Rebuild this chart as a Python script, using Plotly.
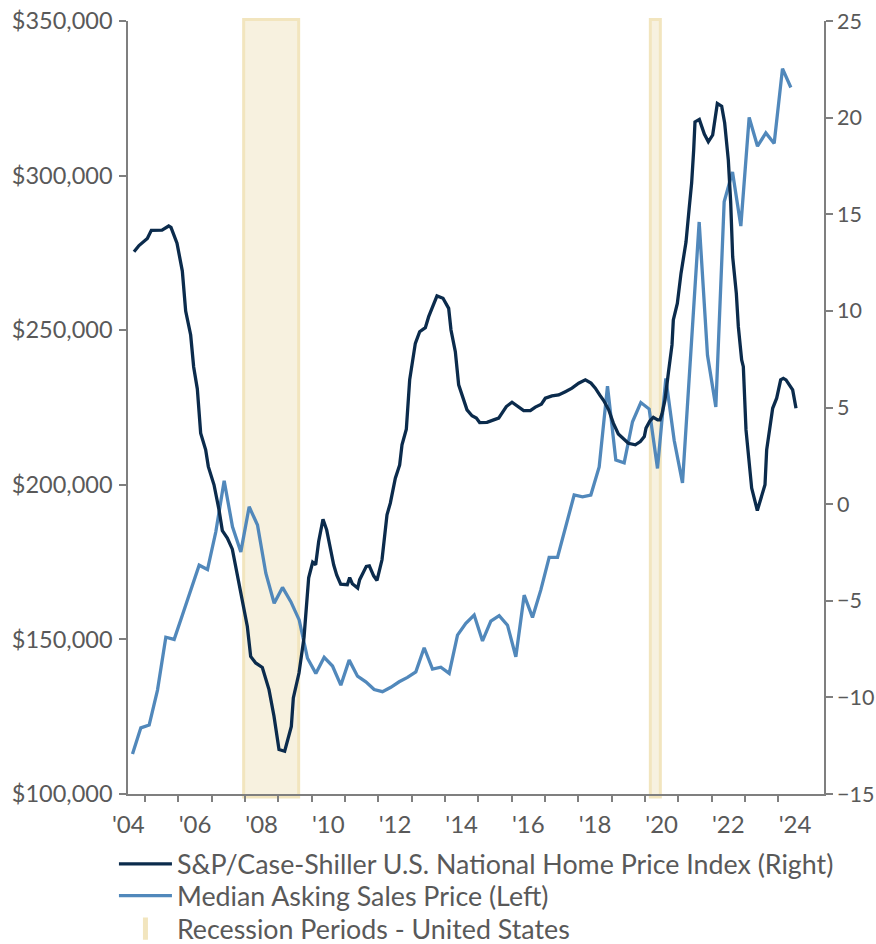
import plotly.graph_objects as go

# ---------------- data ----------------
# S&P/Case-Shiller U.S. National Home Price Index, YoY % (right axis)
cs_year = [2004.67, 2004.82, 2005.07, 2005.19, 2005.51, 2005.71, 2005.78, 2005.96, 2006.12, 2006.22,
           2006.37, 2006.46, 2006.57, 2006.67, 2006.82, 2006.90, 2007.07, 2007.22, 2007.32, 2007.47,
           2007.62, 2007.77, 2007.92, 2008.07, 2008.17, 2008.32, 2008.52, 2008.72, 2008.87, 2009.02,
           2009.19, 2009.39, 2009.45, 2009.62, 2009.77, 2009.91, 2010.03, 2010.12, 2010.21, 2010.34,
           2010.45, 2010.54, 2010.66, 2010.75, 2010.87, 2011.07, 2011.14, 2011.22, 2011.38, 2011.44,
           2011.56, 2011.64, 2011.73, 2011.86, 2011.96, 2012.11, 2012.26, 2012.36, 2012.51, 2012.64,
           2012.71, 2012.84, 2012.94, 2013.11, 2013.24, 2013.41, 2013.51, 2013.64, 2013.76, 2013.94,
           2014.11, 2014.18, 2014.31, 2014.41, 2014.56, 2014.66, 2014.81, 2014.94, 2015.04, 2015.26,
           2015.46, 2015.61, 2015.71, 2015.84, 2016.01, 2016.21, 2016.36, 2016.56, 2016.71, 2016.89,
           2017.01, 2017.21, 2017.41, 2017.61, 2017.81, 2018.01, 2018.21, 2018.38, 2018.51, 2018.64,
           2018.76, 2018.91, 2019.05, 2019.20, 2019.35, 2019.50, 2019.71, 2019.86, 2019.98, 2020.03,
           2020.15, 2020.25, 2020.38, 2020.45, 2020.51, 2020.60, 2020.70, 2020.81, 2020.85, 2020.97,
           2021.08, 2021.23, 2021.33, 2021.40, 2021.46, 2021.50, 2021.63, 2021.78, 2021.90, 2022.03,
           2022.17, 2022.30, 2022.39, 2022.50, 2022.57, 2022.63, 2022.74, 2022.80, 2022.90, 2022.95,
           2023.03, 2023.15, 2023.20, 2023.37, 2023.50, 2023.60, 2023.65, 2023.73, 2023.83, 2023.95,
           2024.07, 2024.15, 2024.23, 2024.33, 2024.43, 2024.53]
cs_yoy = [13.06, 13.38, 13.75, 14.17, 14.18, 14.39, 14.32, 13.50, 12.06, 9.99,
          8.75, 7.10, 5.96, 3.67, 2.81, 1.94, 1.00, -0.29, -1.37, -1.76,
          -2.33, -3.74, -5.12, -6.33, -7.88, -8.22, -8.45, -9.60, -10.98, -12.70,
          -12.79, -11.50, -10.03, -8.74, -6.91, -3.81, -3.01, -3.14, -1.93, -0.78,
          -1.33, -2.19, -3.14, -3.66, -4.14, -4.17, -3.80, -4.12, -4.34, -3.91,
          -3.54, -3.22, -3.19, -3.71, -3.95, -2.88, -0.55, 0.05, 1.34, 2.03,
          3.07, 3.88, 6.43, 8.32, 8.92, 9.13, 9.70, 10.25, 10.77, 10.65,
          10.13, 9.01, 7.89, 6.17, 5.43, 4.88, 4.57, 4.45, 4.22, 4.23,
          4.36, 4.45, 4.71, 5.05, 5.27, 5.05, 4.84, 4.84, 5.02, 5.17,
          5.48, 5.60, 5.65, 5.82, 6.00, 6.26, 6.43, 6.26, 6.00, 5.65,
          5.36, 4.88, 4.19, 3.63, 3.41, 3.15, 3.07, 3.24, 3.50, 3.93,
          4.31, 4.49, 4.36, 4.36, 4.67, 5.39, 6.77, 8.24, 9.53, 10.39,
          11.94, 13.56, 15.39, 16.64, 18.32, 19.78, 19.91, 19.15, 18.75, 19.10,
          20.73, 20.59, 19.72, 17.80, 15.63, 12.80, 10.91, 9.18, 7.46, 7.11,
          3.84, 1.77, 0.83, -0.33, 0.39, 1.00, 2.81, 3.84, 4.96, 5.48,
          6.43, 6.51, 6.43, 6.17, 5.91, 4.96]

# Median Asking Sales Price, quarterly from 2004 Q3 (left axis)
asking_start = 2004.625  # mid-quarter of 2004 Q3
asking_price = [112900, 121400, 122300, 133600, 150700, 150000, 158000, 166000, 174000, 172600,
                184800, 201300, 186400, 178300, 192900, 187000, 171400, 161700, 166800, 162200,
                156300, 143900, 139000, 144200, 141400, 135200, 143300, 138100, 136300, 133800,
                133100, 134500, 136300, 137700, 139500, 147300, 140400, 141000, 139000, 151400,
                155200, 157900, 149500, 155900, 157700, 154600, 144400, 164300, 157100, 166000,
                176500, 176500, 186400, 196700, 196100, 196700, 205800, 231900, 208000, 207100,
                220400, 226600, 224500, 205300, 234400, 214400, 200600, 243500, 285000, 241900,
                225200, 291500, 301200, 283700, 318800, 309500, 313800, 310400, 334600, 328500]
asking_year = [asking_start + 0.25 * i for i in range(len(asking_price))]

# Recession periods - United States
rec_start = [2007.96, 2020.16]
rec_end = [2009.61, 2020.46]

# x-axis labels
label_years = [2004, 2006, 2008, 2010, 2012, 2014, 2016, 2018, 2020, 2022, 2024]
label_text = ["'04", "'06", "'08", "'10", "'12", "'14", "'16", "'18", "'20", "'22", "'24"]
year_ticks = list(range(2005, 2025))

# ---------------- style ----------------
DARK = "#0b2b4c"
BLUE = "#5188bb"
REC_FILL = "#f7f1df"
REC_LINE = "#f2e5be"
AXIS = "#7f7f7f"
TEXT = "#595959"
FONT = "Lato, 'Open Sans', sans-serif"
LEG_FONT = dict(size=26.8, color=TEXT)

fig = go.Figure()

fig.add_trace(go.Scatter(
    x=cs_year, y=cs_yoy, yaxis="y2", mode="lines",
    name="S&P/Case-Shiller U.S. National Home Price Index (Right)",
    line=dict(color=DARK, width=3.3), legend="legend"))

fig.add_trace(go.Scatter(
    x=asking_year, y=asking_price, mode="lines",
    name="Median Asking Sales Price (Left)",
    line=dict(color=BLUE, width=3.3), legend="legend2"))

fig.add_trace(go.Scatter(
    x=[None], y=[None], mode="markers",
    name="Recession Periods - United States",
    marker=dict(symbol="line-ns", size=20, color=REC_LINE,
                line=dict(color=REC_LINE, width=10)), legend="legend3"))

for s, e in zip(rec_start, rec_end):
    fig.add_shape(type="rect", xref="x", yref="paper", x0=s, x1=e, y0=-0.004, y1=1.002,
                  fillcolor=REC_FILL, line=dict(color=REC_LINE, width=3), layer="below")

leg_common = dict(orientation="v", x=-0.0202, xanchor="left", yanchor="top",
                  font=LEG_FONT, itemwidth=53, bgcolor="rgba(0,0,0,0)")

fig.update_layout(
    width=876, height=944,
    margin=dict(l=128, r=52, t=21, b=150, autoexpand=False),
    paper_bgcolor="white", plot_bgcolor="white",
    font=dict(family=FONT, color=TEXT, size=22),
    showlegend=True,
    legend=dict(y=-0.0595, **leg_common),
    legend2=dict(y=-0.1005, **leg_common),
    legend3=dict(y=-0.1432, **leg_common),
    xaxis=dict(range=[2004.49, 2025.37],
               tickvals=[y + 0.5 for y in label_years], ticktext=label_text,
               ticks="outside", ticklen=8, tickcolor="rgba(0,0,0,0)",
               showline=True, linecolor=AXIS, linewidth=1.5,
               showgrid=False, zeroline=False, tickangle=0,
               tickfont=dict(size=24, color=TEXT),
               minor=dict(tickvals=year_ticks, ticks="outside", ticklen=6,
                          tickcolor=AXIS, tickwidth=1.5, showgrid=False)),
    yaxis=dict(range=[100000, 350000], dtick=50000, tickformat="$,.0f",
               ticks="outside", ticklen=7, tickcolor=AXIS, tickwidth=1.5,
               showline=True, linecolor=AXIS, linewidth=1.5,
               showgrid=False, zeroline=False, ticklabelstandoff=2,
               ticklabeloverflow="allow",
               tickfont=dict(size=23.5, color=TEXT)),
    yaxis2=dict(range=[-15, 25], dtick=5, overlaying="y", side="right",
                ticks="outside", ticklen=7, tickcolor=AXIS, tickwidth=1.5,
                showline=True, linecolor=AXIS, linewidth=1.5,
                showgrid=False, zeroline=False, ticklabelstandoff=0,
                ticklabeloverflow="allow",
                tickfont=dict(size=21.5, color=TEXT)),
)

fig.write_html(
    "out.html",
    config={"displayModeBar": False},
    post_script=("document.body.style.margin='0px';"
                 "document.body.style.overflow='hidden';"
                 "document.documentElement.style.overflow='hidden';"),
)
